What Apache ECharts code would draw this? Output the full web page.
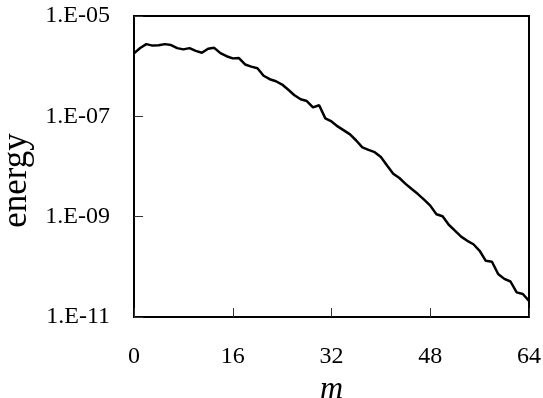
<!DOCTYPE html>
<html>
<head>
<meta charset="utf-8">
<style>html,body{margin:0;padding:0;background:#fff}#c{width:543px;height:398px}</style>
<script src="https://cdn.jsdelivr.net/npm/echarts@6/dist/echarts.min.js"></script>
</head>
<body>
<div id="c"></div>
<script>
const mValues = [];
for (let i = 0; i <= 64; i++) mValues.push(i);
const energy = [
  1.8e-6, 2.3e-6, 2.75e-6, 2.57e-6, 2.6e-6, 2.75e-6, 2.63e-6, 2.29e-6, 2.16e-6, 2.29e-6,
  2.02e-6, 1.85e-6, 2.22e-6, 2.32e-6, 1.82e-6, 1.58e-6, 1.43e-6, 1.45e-6, 1.08e-6, 9.8e-7,
  9.1e-7, 6.45e-7, 5.5e-7, 5.0e-7, 4.3e-7, 3.39e-7, 2.63e-7, 2.19e-7, 2.02e-7, 1.51e-7,
  1.66e-7, 9.1e-8, 7.9e-8, 6.3e-8, 5.25e-8, 4.37e-8, 3.3e-8, 2.4e-8, 2.14e-8, 1.93e-8,
  1.55e-8, 1.05e-8, 7.2e-9, 5.9e-9, 4.5e-9, 3.55e-9, 2.82e-9, 2.19e-9, 1.66e-9, 1.12e-9,
  1.02e-9, 6.9e-10, 5.25e-10, 4.0e-10, 3.3e-10, 2.82e-10, 2.09e-10, 1.32e-10, 1.26e-10, 7.2e-11,
  5.75e-11, 5.1e-11, 3.1e-11, 2.88e-11, 2.09e-11
];
const xTicks = [0, 16, 32, 48, 64];
const yTickLabels = ['1.E-11', '1.E-09', '1.E-07', '1.E-05'];

const FONT = "'Liberation Serif', 'Times New Roman', serif";
const chart = echarts.init(document.getElementById('c'), null, {renderer: 'canvas'});
chart.setOption({
  animation: false,
  backgroundColor: '#ffffff',
  grid: {left: 134, right: 14, top: 16, bottom: 81, containLabel: false, outerBoundsMode: 'none',
         show: true, borderColor: '#000', borderWidth: 2, backgroundColor: 'transparent'},
  xAxis: {
    type: 'value', min: xTicks[0], max: xTicks[xTicks.length - 1], interval: 16,
    name: 'm', nameLocation: 'middle', nameGap: 46,
    nameTextStyle: {fontFamily: FONT, fontStyle: 'italic', fontSize: 32, color: '#000'},
    axisLine: {show: true, lineStyle: {color: '#000', width: 2}},
    axisTick: {show: true, inside: true, length: 9, lineStyle: {color: '#333', width: 1}},
    axisLabel: {fontFamily: FONT, fontSize: 24, color: '#000', margin: 28},
    splitLine: {show: false}
  },
  yAxis: {
    type: 'log', logBase: 10, min: 1e-11, max: 1e-5, interval: 2,
    name: 'energy', nameLocation: 'middle', nameGap: 91,
    nameTextStyle: {fontFamily: FONT, fontSize: 35, color: '#000', padding: [0, 28, 0, 0]},
    axisLine: {show: true, lineStyle: {color: '#000', width: 2}},
    axisTick: {show: true, inside: true, length: 9, lineStyle: {color: '#333', width: 1}},
    axisLabel: {
      fontFamily: FONT, fontSize: 24, color: '#000', margin: 24,
      formatter: function (v) {
        const e = Math.round(Math.log10(v));
        const idx = (e + 11) / 2;
        return yTickLabels[idx] !== undefined ? yTickLabels[idx] : '';
      }
    },
    splitLine: {show: false}
  },
  series: [{
    type: 'line',
    data: mValues.map((m, i) => [m, energy[i]]),
    showSymbol: false,
    lineStyle: {color: '#000', width: 2.5},
    clip: true
  }]
});
</script>
</body>
</html>
